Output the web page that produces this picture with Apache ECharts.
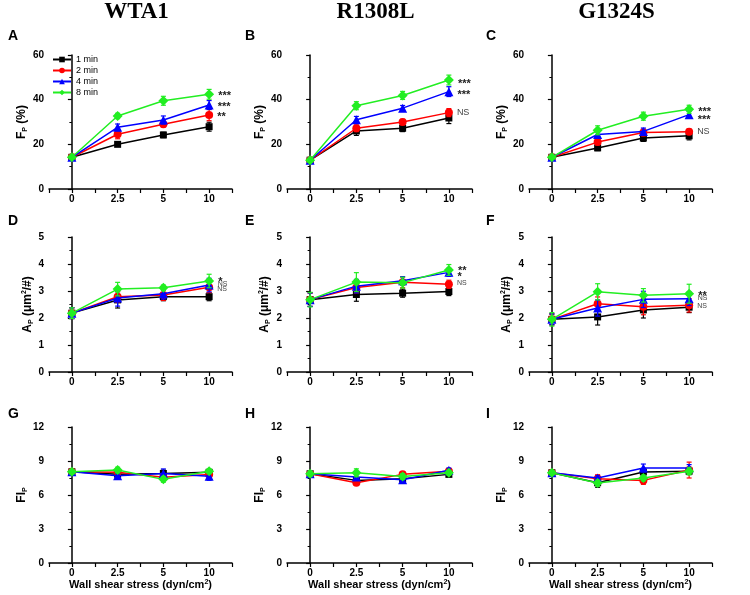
<!DOCTYPE html>
<html>
<head>
<meta charset="utf-8">
<script src="https://cdn.jsdelivr.net/npm/echarts@6/dist/echarts.min.js"></script>
<style>html,body{margin:0;padding:0;background:#fff}#c{width:750px;height:595px}</style>
</head>
<body>
<div id="c"></div>
<script>
// ---------- data ----------
const categories = ['0', '2.5', '5', '10'];
const seriesNames = ['1 min', '2 min', '4 min', '8 min'];
const columnTitles = ['WTA1', 'R1308L', 'G1324S'];
const panelLetters = ['A', 'B', 'C', 'D', 'E', 'F', 'G', 'H', 'I'];

// F_P (%) rows: [1 min, 2 min, 4 min, 8 min]
const fpWTA1   = [[14.2, 20.0, 24.2, 27.9], [14.2, 24.5, 29.0, 33.1], [14.2, 27.6, 30.9, 37.6], [14.2, 32.7, 39.5, 42.4]];
const fpWTA1E  = [[0.8, 0.8, 1.2, 2.0], [0.8, 2.0, 1.2, 2.5], [0.8, 1.5, 1.8, 2.0], [0.8, 1.2, 2.0, 2.2]];
const fpWTA1S  = ['', '**', '***', '***'];
const fpR1308  = [[12.9, 26.0, 27.2, 31.8], [12.9, 27.2, 30.0, 34.2], [12.9, 31.0, 36.2, 43.6], [12.9, 37.3, 41.9, 48.8]];
const fpR1308E = [[1.0, 2.0, 1.5, 2.5], [1.0, 1.5, 1.2, 1.8], [1.0, 1.5, 1.2, 2.2], [1.0, 1.8, 1.8, 2.2]];
const fpR1308S = ['', 'NS', '***', '***'];
const fpG1324  = [[14.2, 18.4, 22.8, 23.8], [14.2, 21.0, 25.3, 25.6], [14.2, 24.4, 25.8, 33.3], [14.2, 26.3, 32.6, 35.7]];
const fpG1324E = [[1.0, 1.2, 1.5, 1.8], [1.0, 1.2, 1.5, 1.2], [1.0, 1.2, 1.5, 1.5], [1.0, 2.0, 1.8, 1.8]];
const fpG1324S = ['', 'NS', '***', '***'];

// A_P (um^2/#)
const apWTA1   = [[2.18, 2.67, 2.79, 2.79], [2.18, 2.79, 2.85, 3.14], [2.18, 2.74, 2.90, 3.22], [2.18, 3.07, 3.12, 3.37]];
const apWTA1E  = [[0.2, 0.3, 0.15, 0.15], [0.2, 0.2, 0.2, 0.2], [0.2, 0.3, 0.2, 0.25], [0.2, 0.25, 0.1, 0.25]];
const apWTA1S  = ['', 'NS', 'NS', '*'];
const apR1308  = [[2.68, 2.87, 2.92, 2.98], [2.68, 3.13, 3.32, 3.25], [2.68, 3.18, 3.38, 3.69], [2.68, 3.33, 3.31, 3.78]];
const apR1308E = [[0.25, 0.25, 0.15, 0.15], [0.25, 0.2, 0.2, 0.15], [0.25, 0.25, 0.15, 0.15], [0.27, 0.35, 0.2, 0.2]];
const apR1308S = ['', 'NS', '*', '**'];
const apG1324  = [[1.95, 2.04, 2.30, 2.40], [1.95, 2.53, 2.42, 2.47], [1.95, 2.37, 2.69, 2.71], [1.95, 2.97, 2.84, 2.90]];
const apG1324E = [[0.2, 0.3, 0.3, 0.2], [0.2, 0.25, 0.3, 0.25], [0.2, 0.3, 0.3, 0.25], [0.25, 0.3, 0.25, 0.35]];
const apG1324S = ['', 'NS', 'NS', '**'];

// FI_P
const fiWTA1   = [[8.05, 7.83, 7.90, 8.00], [8.05, 8.00, 7.56, 7.80], [8.05, 7.70, 7.90, 7.65], [8.05, 8.20, 7.38, 8.10]];
const fiWTA1E  = [[0.2, 0.25, 0.3, 0.2], [0.2, 0.25, 0.25, 0.3], [0.2, 0.2, 0.4, 0.35], [0.2, 0.25, 0.25, 0.2]];
const fiR1308  = [[7.88, 7.29, 7.44, 7.82], [7.88, 7.08, 7.82, 8.09], [7.88, 7.58, 7.35, 8.18], [7.88, 7.96, 7.64, 7.97]];
const fiR1308E = [[0.25, 0.2, 0.2, 0.2], [0.25, 0.2, 0.2, 0.2], [0.25, 0.2, 0.2, 0.2], [0.25, 0.35, 0.25, 0.2]];
const fiG1324  = [[7.97, 7.08, 8.03, 8.10], [7.97, 7.44, 7.29, 8.20], [7.97, 7.50, 8.38, 8.38], [7.97, 7.05, 7.50, 8.10]];
const fiG1324E = [[0.2, 0.4, 0.3, 0.3], [0.2, 0.35, 0.35, 0.7], [0.2, 0.2, 0.35, 0.3], [0.2, 0.25, 0.25, 0.3]];

const yTicksFp = [0, 20, 40, 60];
const yTicksAp = [0, 1, 2, 3, 4, 5];
const yTicksFi = [0, 3, 6, 9, 12];

// ---------- styling / layout ----------
const colors = ['#000000', '#ff0000', '#0000ff', '#22ee22'];
const symbols = ['rect', 'circle', 'triangle', 'diamond'];
const symbolSizes = [7, 8, 9, 10];
const font = 'Arial, "Liberation Sans", sans-serif';

const panels = [
  { data: fpWTA1, err: fpWTA1E, sig: fpWTA1S, ticks: yTicksFp, kind: 'fp' },
  { data: fpR1308, err: fpR1308E, sig: fpR1308S, ticks: yTicksFp, kind: 'fp' },
  { data: fpG1324, err: fpG1324E, sig: fpG1324S, ticks: yTicksFp, kind: 'fp' },
  { data: apWTA1, err: apWTA1E, sig: apWTA1S, ticks: yTicksAp, kind: 'ap' },
  { data: apR1308, err: apR1308E, sig: apR1308S, ticks: yTicksAp, kind: 'ap' },
  { data: apG1324, err: apG1324E, sig: apG1324S, ticks: yTicksAp, kind: 'ap' },
  { data: fiWTA1, err: fiWTA1E, sig: null, ticks: yTicksFi, kind: 'fi' },
  { data: fiR1308, err: fiR1308E, sig: null, ticks: yTicksFi, kind: 'fi' },
  { data: fiG1324, err: fiG1324E, sig: null, ticks: yTicksFi, kind: 'fi' }
];
// vertical nudges (px) of the significance labels, per panel, [1,2,4,8 min]
const sigNudge = [
  [0, 0, 0, 0], [0, 0, 1, 2], [0, 0, 3, 1],
  [0, 2, -1, -1], [0, -1, 3, -1], [0, 1, -1, 0],
  null, null, null
];
const nameGaps = [18, 19, 17, 10, 14, 14, 19, 17, 17];

const colLeft = [49, 287, 529];
const colWidth = [183, 185, 183];
const rowTop = [55, 237, 427];
const rowHeight = [134, 135, 136];
const letterLeft = [8, 245, 486];
const letterTop = [29, 214, 407];

const richBase = {
  a: { fontFamily: font, fontWeight: 'bold', fontSize: 12, color: '#000', lineHeight: 16 },
  s: { fontFamily: font, fontWeight: 'bold', fontSize: 7, color: '#000', lineHeight: 16, padding: [7, 0, 0, 0] },
  p: { fontFamily: font, fontWeight: 'bold', fontSize: 7, color: '#000', lineHeight: 16, padding: [0, 0, 7, 0] }
};
const yNames = {
  fp: '{a|F}{s|P}{a| (%)}',
  ap: '{a|A}{s|P}{a| (\u03bcm}{p|2}{a|/#)}',
  fi: '{a|FI}{s|P}'
};

const grids = [], xAxes = [], yAxes = [], series = [], titles = [];

columnTitles.forEach((t, c) => {
  titles.push({
    text: t, left: colLeft[c] + colWidth[c] / 2 - 4, top: 1, textAlign: 'center', padding: 0,
    textStyle: { fontFamily: '"Liberation Serif", "Times New Roman", serif', fontWeight: 'bold', fontSize: 23, color: '#000' }
  });
});

panels.forEach((p, i) => {
  const r = Math.floor(i / 3), c = i % 3;
  titles.push({
    text: panelLetters[i], left: letterLeft[c], top: letterTop[r], padding: 0,
    textStyle: { fontFamily: font, fontWeight: 'bold', fontSize: 14, color: '#000' }
  });
  grids.push({ left: colLeft[c], top: rowTop[r], width: colWidth[c], height: rowHeight[r], containLabel: false });
  xAxes.push({
    gridIndex: i, type: 'value', min: -0.5, max: 3.5, interval: 0.5,
    axisLine: { show: true, onZero: false, lineStyle: { color: '#000', width: 1.5 } },
    axisTick: { show: true, length: 4, lineStyle: { color: '#000', width: 1.2 } },
    splitLine: { show: false },
    axisLabel: {
      fontFamily: font, fontWeight: 'bold', fontSize: 10, color: '#000', margin: 5,
      formatter: v => (Math.abs(v - Math.round(v)) < 1e-9 && v >= 0 ? categories[Math.round(v)] : ''),
      showMinLabel: true, showMaxLabel: true
    },
    name: r === 2 ? '{a|Wall shear stress (dyn/cm}{p|2}{a|)}' : '',
    nameLocation: 'middle', nameGap: 14,
    nameTextStyle: {
      rich: {
        a: { fontFamily: font, fontWeight: 'bold', fontSize: 11, color: '#000', lineHeight: 14 },
        p: { fontFamily: font, fontWeight: 'bold', fontSize: 7, color: '#000', lineHeight: 14, padding: [0, 0, 6, 0] }
      }
    }
  });
  const tk = p.ticks;
  yAxes.push({
    gridIndex: i, type: 'value', min: tk[0], max: tk[tk.length - 1], interval: tk[1] - tk[0],
    axisLine: { show: true, lineStyle: { color: '#000', width: 1.5 } },
    axisTick: { show: true, length: 4, lineStyle: { color: '#000', width: 1.2 } },
    minorTick: { show: true, splitNumber: 2, length: 2.5, lineStyle: { color: '#000', width: 1 } },
    splitLine: { show: false },
    axisLabel: { fontFamily: font, fontWeight: 'bold', fontSize: 10, color: '#000', margin: 5 },
    name: yNames[p.kind], nameLocation: 'middle', nameRotate: 90,
    nameGap: nameGaps[i],
    nameTextStyle: { rich: richBase }
  });

  p.data.forEach((vals, k) => {
    const d = vals.map((v, j) => {
      if (j === vals.length - 1 && p.sig && p.sig[k]) {
        const isNS = p.sig[k] === 'NS';
        return {
          value: [j, v],
          label: {
            show: true, position: 'right', distance: 4,
            offset: [0, (isNS ? 0 : 2) + sigNudge[i][k]],
            formatter: p.sig[k],
            fontFamily: font,
            fontWeight: isNS ? 'normal' : 'bold',
            fontSize: isNS ? (p.kind === 'ap' ? 7 : 9) : 11,
            color: isNS ? '#444' : '#222'
          }
        };
      }
      return [j, v];
    });
    series.push({
      type: 'line', name: seriesNames[k], xAxisIndex: i, yAxisIndex: i,
      data: d, symbol: symbols[k], symbolSize: symbolSizes[k],
      lineStyle: { color: colors[k], width: 1.5 },
      itemStyle: { color: colors[k] },
      z: 3 + k, animation: false
    });
    series.push({
      type: 'custom', name: 'err' + i + '_' + k, xAxisIndex: i, yAxisIndex: i,
      data: vals.map((v, j) => [j, v, p.err[k][j]]),
      renderItem: (params, api) => {
        const x = api.value(0), y = api.value(1), e = api.value(2);
        const top = api.coord([x, y + e]);
        const bot = api.coord([x, y - e]);
        const w = 2.5;
        const st = { stroke: colors[k], lineWidth: 1.2 };
        return {
          type: 'group', children: [
            { type: 'line', shape: { x1: top[0], y1: top[1], x2: bot[0], y2: bot[1] }, style: st },
            { type: 'line', shape: { x1: top[0] - w, y1: top[1], x2: top[0] + w, y2: top[1] }, style: st },
            { type: 'line', shape: { x1: bot[0] - w, y1: bot[1], x2: bot[0] + w, y2: bot[1] }, style: st }
          ]
        };
      },
      z: 3 + k, animation: false, silent: true
    });
  });
});

const chart = echarts.init(document.getElementById('c'), null, { renderer: 'canvas' });
chart.setOption({
  backgroundColor: '#fff',
  animation: false,
  title: titles,
  legend: {
    data: seriesNames, orient: 'vertical', left: 52, top: 55, padding: 0,
    itemWidth: 18, itemHeight: 7, itemGap: 2,
    textStyle: { fontFamily: font, fontSize: 9, color: '#000' }
  },
  grid: grids,
  xAxis: xAxes,
  yAxis: yAxes,
  series: series
});
</script>
</body>
</html>
